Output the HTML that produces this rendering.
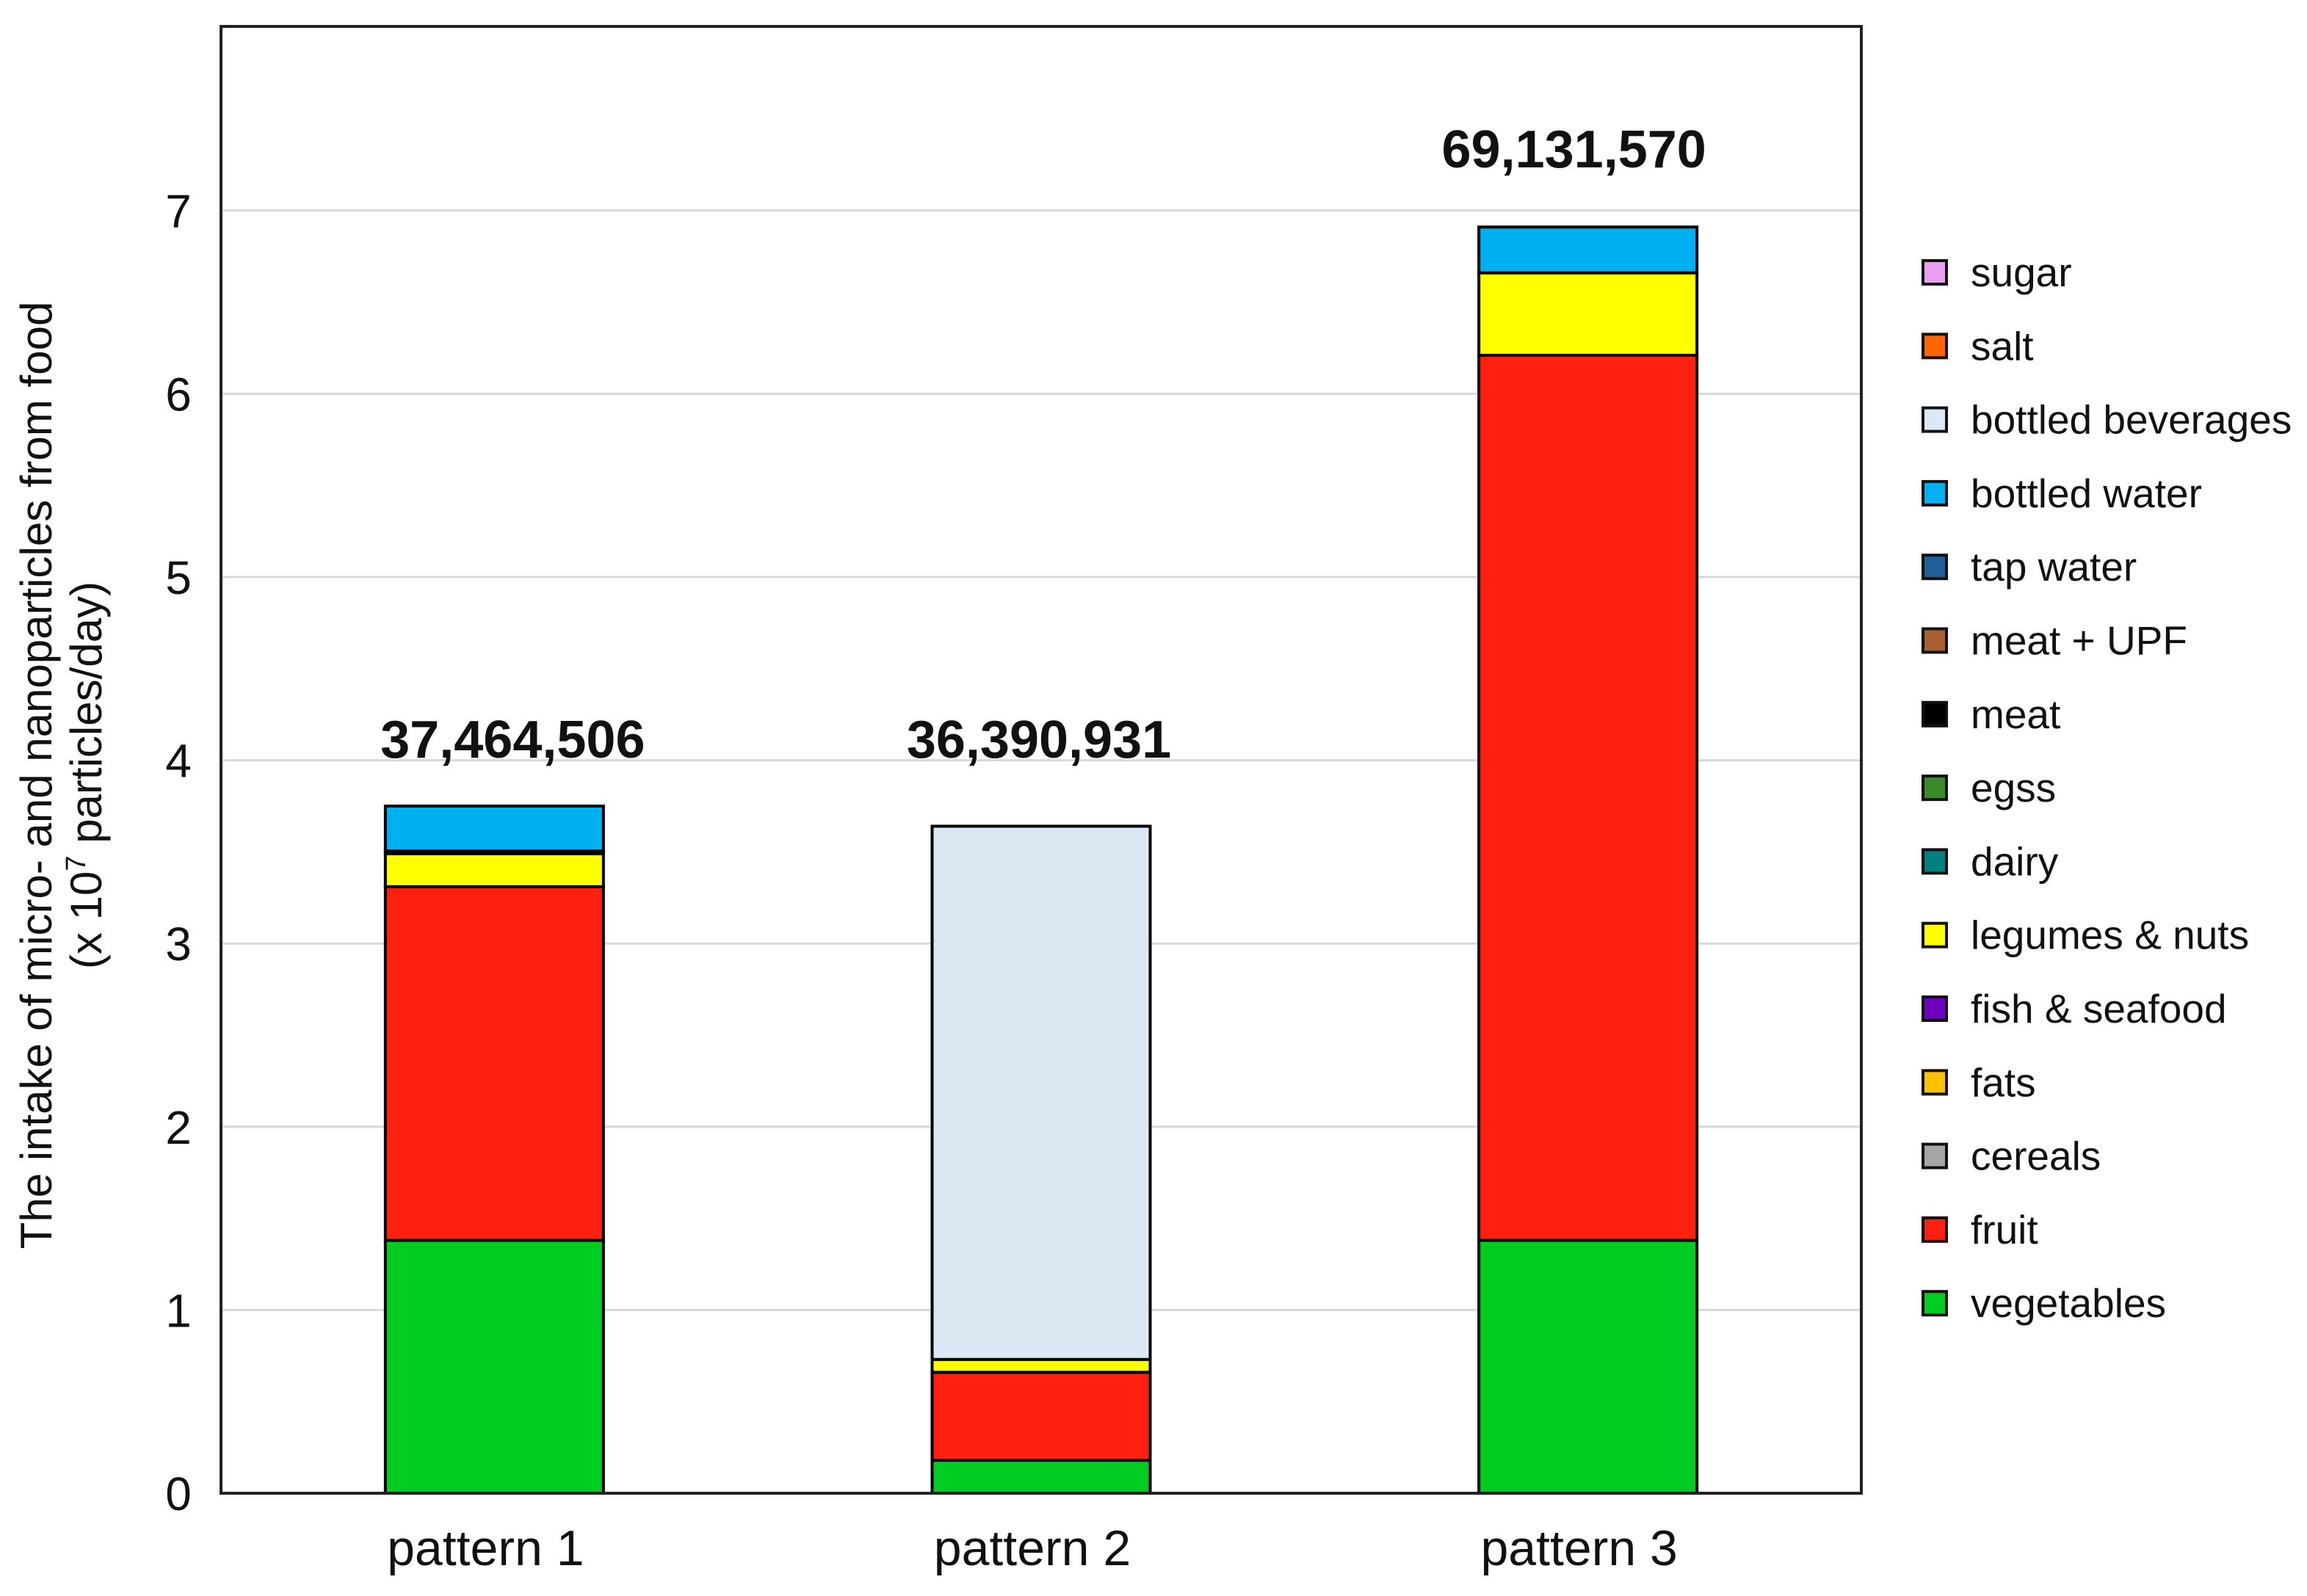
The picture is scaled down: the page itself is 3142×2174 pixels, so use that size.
<!DOCTYPE html>
<html><head><meta charset="utf-8"><style>
html,body{margin:0;padding:0;background:#fff;}
svg{display:block;font-family:"Liberation Sans",sans-serif;}
</style></head><body>
<svg id="chart" width="3142" height="2174" viewBox="0 0 3142 2174" xmlns="http://www.w3.org/2000/svg">
<rect x="0" y="0" width="3142" height="2174" fill="#fff"/>
<g id="grid"></g><g id="bars"></g><g id="axes"></g><g id="legend"></g>
<g font-size="60" fill="#111" text-anchor="middle">
<text transform="translate(70,1056) rotate(-90)">The intake of micro- and nanoparticles from food</text>
<text transform="translate(138,1056) rotate(-90)">(x 10<tspan font-size="38" dy="-22">7</tspan><tspan dy="22"> particles/day)</tspan></text>
</g>
</svg>
<script>
const categories = ["pattern 1","pattern 2","pattern 3"];
const totals = ["37,464,506","36,390,931","69,131,570"];
const seriesNames = ["vegetables","fruit","cereals","fats","fish & seafood","legumes & nuts","dairy","egss","meat","meat + UPF","tap water","bottled water","bottled beverages","salt","sugar"];
const seriesColors = ["#00cc22","#ff2010","#a6a6a6","#ffc000","#7000c0","#ffff00","#008080","#3a8a2a","#000000","#a86030","#1f5f9a","#00b0f0","#dce9f5","#ff6600","#e8a0f0"];
const vegetables = [1.38,0.18,1.38];
const fruit = [1.93,0.48,4.83];
const cereals = [0,0,0];
const fats = [0,0,0];
const fish = [0,0,0];
const legumes = [0.18,0.07,0.45];
const dairy = [0,0,0];
const eggs = [0,0,0];
const meat = [0.015,0,0];
const meatUPF = [0,0,0];
const tapWater = [0,0,0];
const bottledWater = [0.245,0,0.25];
const bottledBeverages = [0,2.91,0];
const salt = [0,0,0];
const sugar = [0,0,0];
const series = [vegetables,fruit,cereals,fats,fish,legumes,dairy,eggs,meat,meatUPF,tapWater,bottledWater,bottledBeverages,salt,sugar];
const yTicks = [0,1,2,3,4,5,6,7];

const NS="http://www.w3.org/2000/svg";
const L=301,R=2535,T=36,B=2034,unit=249.6;
const y=v=>B-v*unit;
const bandW=(R-L)/3, barW=297;
const xc=i=>L+bandW*(i+0.5);
const labelDx=[25,-3,-19];
function mk(tag,attrs,parent){const e=document.createElementNS(NS,tag);for(const k in attrs)e.setAttribute(k,attrs[k]);parent.appendChild(e);return e;}
const grid=document.getElementById('grid'),bars=document.getElementById('bars'),axes=document.getElementById('axes'),legend=document.getElementById('legend');
yTicks.forEach(t=>{
  if(t>0){const g=mk('line',{x1:L,x2:R,y1:y(t),y2:y(t),stroke:'#d9d9d9','stroke-width':3},grid);
  
  }
  const tl=mk('text',{x:243,y:y(t)+23,'font-size':64,'text-anchor':'middle',fill:'#111'},axes);
  tl.textContent=t;
  
  
});
categories.forEach((c,i)=>{
  let acc=0;
  series.forEach((s,k)=>{
    const v=s[i]; if(!v) return;
    const r=mk('rect',{x:xc(i)-barW/2,y:y(acc+v),width:barW,height:v*unit,fill:seriesColors[k],stroke:'#000','stroke-width':4},bars);
    
    
    acc+=v;
  });
  const lbl=mk('text',{x:xc(i)+labelDx[i],y:i===2?228:1032,'font-size':72,'font-weight':'bold','text-anchor':'middle',fill:'#111'},axes);
  lbl.textContent=totals[i];
  
  
  const xl=mk('text',{x:xc(i)-12,y:2132,'font-size':68,'text-anchor':'middle',fill:'#111'},axes);
  xl.textContent=c;
  
  
});
const frame=mk('rect',{x:L,y:T,width:R-L,height:B-T,fill:'none',stroke:'#222','stroke-width':4},axes);


for(let j=seriesNames.length-1;j>=0;j--){
  const row=seriesNames.length-1-j, yy=371+row*100.3;
  const sq=mk('rect',{x:2619,y:yy-16,width:32,height:32,fill:seriesColors[j],stroke:'#111','stroke-width':4},legend);
  
  
  const tx=mk('text',{x:2684,y:yy+19,'font-size':55,fill:'#111'},legend);
  tx.textContent=seriesNames[j];
  
  
}
</script>
</body></html>
